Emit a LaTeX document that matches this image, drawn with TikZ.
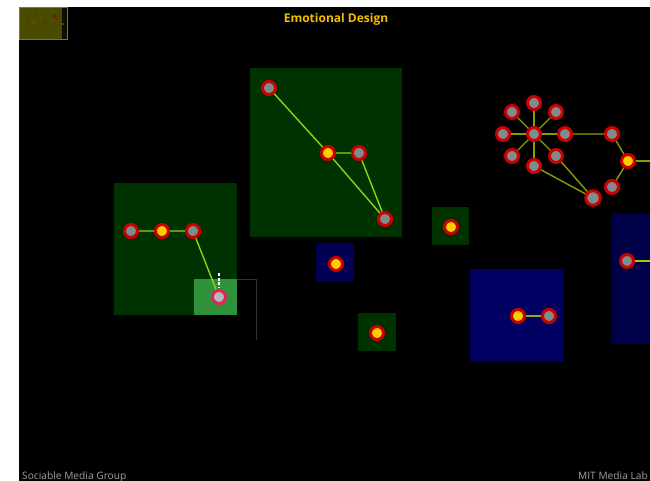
\documentclass[tikz,border=0pt]{standalone}
\usepackage{fontspec}
\setmainfont{Open Sans}
\usepackage{xcolor}
\usepackage{tikz}
\usetikzlibrary{positioning, calc}

\begin{document}
\begin{tikzpicture}[x=1pt, y=-1pt,
  no/.style={circle, inner sep=0pt, minimum size=13pt, draw=anel, line width=3pt, fill=cinza},
  noamarelo/.style={no, fill=amarelo},
  ligacao/.style={draw=lima, line width=1.4pt},
  ligacaoolivo/.style={draw=olivo, line width=1.4pt}]
% --- PALETA HEX ---
\definecolor{fundo}{HTML}{000000}
\definecolor{verde}{HTML}{003100}
\definecolor{verdeclaro}{HTML}{2F913A}
\definecolor{azul}{HTML}{000062}
\definecolor{azulescuro}{HTML}{000048}
\definecolor{anel}{HTML}{CC0000}
\definecolor{amarelo}{HTML}{FFCC00}
\definecolor{cinza}{HTML}{7F8C8C}
\definecolor{lima}{HTML}{8CD414}
\definecolor{olivo}{HTML}{8A9C00}
\definecolor{titulo}{HTML}{F2BE00}
\definecolor{rodape}{HTML}{A0A0A0}
\definecolor{oliva}{HTML}{4A4A00}
\definecolor{contorno}{HTML}{333333}

\useasboundingbox (0,0) rectangle (650,481);

% LAYER 1: Fundo preto e miniatura
\fill[fundo] (19,7) rectangle (650,481);
\draw[fill=oliva, draw=oliva!70!yellow, line width=0.8pt] (19.4,7.4) rectangle (67.6,39.6);
\fill[black!80!oliva] (62,8) rectangle (67,39);
\fill[anel!70!black] (37,12) circle (0.9) (55,16) circle (1.3) (29,22) circle (0.9)
  (45,22) circle (0.9) (41,26) circle (0.7) (57,19) circle (0.8);
\fill[amarelo!60!black] (41,17) circle (0.7) (63,24) circle (0.8) (33,23) circle (0.6);

% LAYER 2: Grupos (retangulos)
\fill[verde] (114,183) rectangle (237,315);
\fill[verde] (250,68) rectangle (402,237);
\fill[verde] (432,207) rectangle (469,245);
\fill[verde] (358,313) rectangle (396,351);
\fill[azul!85!black] (316,243) rectangle (354,282);
\fill[azul] (470,269) rectangle (564,362);
\fill[azulescuro] (611,213) rectangle (650,344);
\fill[verdeclaro] (194,279) rectangle (237,315);
\draw[contorno, line width=1pt] (237,279) -- (256,279) -- (256,340);

% LAYER 3: Nos
\node[no] (esqA) at (131,231) {};
\node[noamarelo] (esqB) at (162,231) {};
\node[no] (esqC) at (193,231) {};
\node[no, draw=anel!75!magenta!85!white, fill=cinza!60!white] (esqD) at (219,297) {};

\node[no] (topA) at (269,88) {};
\node[noamarelo] (topB) at (328,153) {};
\node[no] (topC) at (359,153) {};
\node[no] (topD) at (385,219) {};

\node[noamarelo] (soloA) at (451,227) {};
\node[noamarelo] (soloB) at (336,264) {};
\node[noamarelo] (soloC) at (377,333) {};

\node[noamarelo] (azulA) at (518,316) {};
\node[no] (azulB) at (549,316) {};
\node[no] (dirA) at (627,261) {};
\coordinate (dirFora) at (650,261);

\node[no] (centro) at (534,134) {};
\node[no] (raioN) at (534,103) {};
\node[no] (raioNO) at (512,112) {};
\node[no] (raioNE) at (556,112) {};
\node[no] (raioO) at (503,134) {};
\node[no] (raioL) at (565,134) {};
\node[no] (raioSO) at (512,156) {};
\node[no] (raioS) at (534,166) {};
\node[no] (raioSE) at (556,156) {};
\node[no] (anelA) at (612,134) {};
\node[noamarelo] (anelB) at (628,161) {};
\node[no] (anelC) at (612,187) {};
\node[no, minimum size=14.5pt] (anelD) at (593,198) {};
\coordinate (anelFora) at (650,161);

% LAYER 4: Ligacoes
\draw[ligacao] (esqA) -- (esqB) -- (esqC) -- (esqD);
\draw[ligacao] (topA) -- (topB) -- (topC) -- (topD) -- (topB);
\draw[ligacaoolivo, draw=olivo!70!lima] (azulA) -- (azulB);
\draw[ligacao] (dirA) -- (dirFora);
\draw[ligacaoolivo] (centro) -- (raioN);
\draw[ligacaoolivo] (centro) -- (raioNO);
\draw[ligacaoolivo] (centro) -- (raioNE);
\draw[ligacaoolivo] (centro) -- (raioO);
\draw[ligacaoolivo] (centro) -- (raioL);
\draw[ligacaoolivo] (centro) -- (raioSO);
\draw[ligacaoolivo] (centro) -- (raioS);
\draw[ligacaoolivo] (centro) -- (raioSE);
\draw[ligacaoolivo] (raioL) -- (anelA) -- (anelB) -- (anelC);
\draw[ligacaoolivo] (anelB) -- (anelFora);
\draw[ligacaoolivo] (raioS) -- (anelD) -- (raioSE);

% LAYER 5: Marca pontilhada sobre o no selecionado
\draw[white, line width=2.5pt, dash pattern=on 3pt off 1.6pt] (219,273) -- (219,287.5);

% LAYER 6: Textos
\node[text=titulo, font=\bfseries\fontsize{12}{14}\selectfont] (titulo) at (336,19) {Emotional Design};
\node[text=rodape, font=\fontsize{10.2}{12}\selectfont, anchor=base west, inner sep=0pt] (grupoSMG) at (22,479) {Sociable Media Group};
\node[text=rodape, font=\fontsize{10.2}{12}\selectfont, anchor=base east, inner sep=0pt] (labMIT) at (648,479) {MIT Media Lab};
\end{tikzpicture}
\end{document}
